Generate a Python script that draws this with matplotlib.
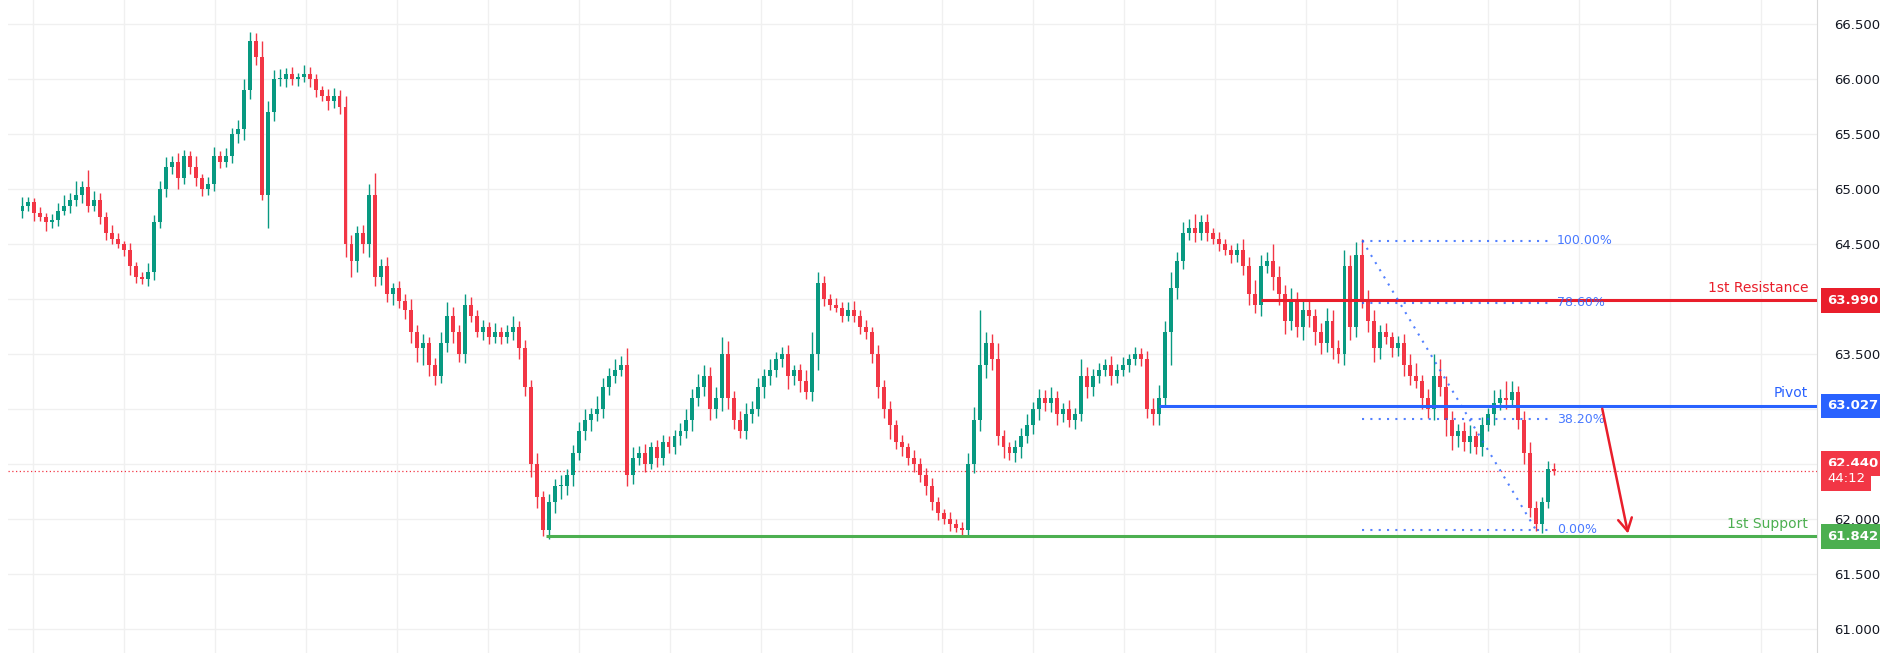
import numpy as np
import matplotlib.pyplot as plt
from matplotlib.patches import Rectangle

# candle closes (open = previous close)
closes = [
    64.85, 64.88, 64.78, 64.75, 64.70, 64.72, 64.80, 64.85, 64.90, 64.95,
    65.02, 64.85, 64.90, 64.75, 64.60, 64.55, 64.50, 64.45, 64.30, 64.20,
    64.18, 64.25, 64.70, 65.00, 65.20, 65.25, 65.10, 65.30, 65.20, 65.10,
    65.00, 65.05, 65.30, 65.25, 65.30, 65.50, 65.55, 65.90, 66.35, 66.20,
    64.95, 65.70, 66.00, 66.00, 66.05, 66.00, 66.02, 66.05, 66.00, 65.90,
    65.85, 65.80, 65.85, 65.75, 64.50, 64.35, 64.60, 64.50, 64.95, 64.20,
    64.30, 64.05, 64.10, 63.98, 63.90, 63.70, 63.55, 63.60, 63.40, 63.30,
    63.60, 63.85, 63.70, 63.50, 63.95, 63.85, 63.70, 63.75, 63.65, 63.70,
    63.65, 63.70, 63.75, 63.55, 63.20, 62.50, 62.20, 61.90, 62.15, 62.30,
    62.30, 62.40, 62.60, 62.80, 62.90, 62.95, 63.00, 63.20, 63.30, 63.35,
    63.40, 62.40, 62.55, 62.60, 62.50, 62.65, 62.55, 62.70, 62.65, 62.75,
    62.80, 62.90, 63.10, 63.20, 63.30, 63.00, 63.10, 63.50, 63.10, 62.90,
    62.80, 62.95, 63.00, 63.20, 63.30, 63.35, 63.45, 63.50, 63.30, 63.35,
    63.25, 63.15, 63.50, 64.15, 64.00, 63.95, 63.92, 63.85, 63.90, 63.85,
    63.75, 63.70, 63.50, 63.20, 63.00, 62.85, 62.70, 62.65, 62.55, 62.50,
    62.40, 62.30, 62.15, 62.05, 62.00, 61.95, 61.92, 61.90, 62.50, 62.90,
    63.40, 63.60, 63.45, 62.75, 62.65, 62.60, 62.65, 62.75, 62.85, 63.00,
    63.10, 63.05, 63.10, 62.95, 63.00, 62.90, 62.95, 63.30, 63.20, 63.30,
    63.35, 63.40, 63.30, 63.35, 63.40, 63.45, 63.50, 63.45, 63.00, 62.95,
    63.10, 63.70, 64.10, 64.35, 64.60, 64.65, 64.60, 64.70, 64.60, 64.55,
    64.50, 64.45, 64.40, 64.45, 64.30, 64.05, 63.95, 64.30, 64.35, 64.20,
    64.05, 63.80, 64.00, 63.75, 63.90, 63.85, 63.70, 63.60, 63.80, 63.55,
    63.50, 64.30, 63.75, 64.40, 64.00, 63.80, 63.55, 63.70, 63.65, 63.55,
    63.60, 63.40, 63.30, 63.25, 63.10, 63.00, 63.30, 63.20, 62.90, 62.75,
    62.80, 62.70, 62.75, 62.65, 62.85, 62.95, 63.05, 63.10, 63.08, 63.15,
    62.90, 62.60, 62.10, 61.95, 62.15, 62.45, 62.44,
]
first_open = 64.80

wick_up = [
    0.08, 0.05, 0.04, 0.06, 0.03, 0.05, 0.07, 0.10, 0.06, 0.12,
    0.05, 0.15, 0.08, 0.06, 0.04, 0.07, 0.05, 0.03, 0.06, 0.04,
    0.05, 0.08, 0.06, 0.07, 0.09, 0.05, 0.08, 0.06, 0.05, 0.10,
    0.04, 0.06, 0.08, 0.05, 0.07, 0.06, 0.08, 0.10, 0.08, 0.07,
    0.15, 0.10, 0.08, 0.09, 0.05, 0.06, 0.04, 0.08, 0.06, 0.05,
    0.04, 0.06, 0.07, 0.05, 0.10, 0.08, 0.06, 0.07, 0.10, 0.20,
    0.06, 0.08, 0.05, 0.06, 0.07, 0.10, 0.06, 0.08, 0.05, 0.06,
    0.10, 0.12, 0.08, 0.06, 0.10, 0.07, 0.05, 0.06, 0.04, 0.08,
    0.05, 0.06, 0.10, 0.05, 0.08, 0.06, 0.10, 0.05, 0.08, 0.06,
    0.10, 0.05, 0.07, 0.08, 0.10, 0.06, 0.12, 0.08, 0.07, 0.10,
    0.08, 0.15, 0.10, 0.06, 0.08, 0.05, 0.07, 0.06, 0.05, 0.06,
    0.07, 0.10, 0.08, 0.12, 0.10, 0.08, 0.10, 0.15, 0.12, 0.06,
    0.08, 0.10, 0.07, 0.08, 0.06, 0.10, 0.07, 0.06, 0.08, 0.05,
    0.06, 0.10, 0.20, 0.10, 0.06, 0.05, 0.06, 0.05, 0.07, 0.08,
    0.05, 0.06, 0.05, 0.08, 0.06, 0.07, 0.05, 0.06, 0.04, 0.08,
    0.05, 0.06, 0.07, 0.05, 0.04, 0.06, 0.05, 0.05, 0.10, 0.12,
    0.50, 0.10, 0.08, 0.15, 0.06, 0.05, 0.07, 0.08, 0.10, 0.06,
    0.08, 0.07, 0.10, 0.06, 0.05, 0.08, 0.06, 0.15, 0.08, 0.06,
    0.07, 0.05, 0.08, 0.06, 0.07, 0.05, 0.06, 0.05, 0.08, 0.10,
    0.12, 0.10, 0.15, 0.08, 0.10, 0.08, 0.12, 0.06, 0.07, 0.05,
    0.06, 0.05, 0.04, 0.06, 0.10, 0.08, 0.12, 0.10, 0.08, 0.15,
    0.10, 0.08, 0.10, 0.06, 0.08, 0.10, 0.06, 0.08, 0.12, 0.10,
    0.08, 0.15, 0.10, 0.12, 0.15, 0.08, 0.10, 0.06, 0.08, 0.05,
    0.06, 0.08, 0.10, 0.12, 0.06, 0.08, 0.20, 0.15, 0.10, 0.08,
    0.06, 0.08, 0.10, 0.05, 0.08, 0.06, 0.12, 0.08, 0.15, 0.10,
    0.06, 0.08, 0.10, 0.06, 0.05, 0.08, 0.06,
]
wick_dn = [
    0.06, 0.05, 0.07, 0.04, 0.08, 0.05, 0.06, 0.04, 0.07, 0.05,
    0.08, 0.06, 0.05, 0.07, 0.06, 0.05, 0.04, 0.06, 0.08, 0.05,
    0.04, 0.06, 0.08, 0.05, 0.07, 0.06, 0.10, 0.05, 0.06, 0.07,
    0.06, 0.05, 0.07, 0.06, 0.05, 0.06, 0.08, 0.10, 0.08, 0.07,
    0.05, 0.30, 0.08, 0.06, 0.07, 0.05, 0.06, 0.05, 0.07, 0.06,
    0.05, 0.08, 0.06, 0.07, 0.12, 0.15, 0.10, 0.08, 0.12, 0.08,
    0.07, 0.08, 0.10, 0.06, 0.08, 0.10, 0.12, 0.15, 0.10, 0.08,
    0.06, 0.08, 0.10, 0.07, 0.08, 0.06, 0.05, 0.07, 0.06, 0.05,
    0.06, 0.05, 0.07, 0.10, 0.08, 0.12, 0.10, 0.06, 0.08, 0.10,
    0.12, 0.08, 0.10, 0.06, 0.08, 0.10, 0.06, 0.08, 0.07, 0.06,
    0.05, 0.10, 0.08, 0.06, 0.07, 0.05, 0.08, 0.06, 0.05, 0.06,
    0.08, 0.06, 0.10, 0.07, 0.08, 0.10, 0.08, 0.12, 0.10, 0.08,
    0.06, 0.07, 0.08, 0.06, 0.10, 0.08, 0.06, 0.07, 0.12, 0.08,
    0.10, 0.06, 0.08, 0.15, 0.06, 0.05, 0.04, 0.06, 0.05, 0.06,
    0.07, 0.06, 0.08, 0.10, 0.08, 0.12, 0.06, 0.08, 0.06, 0.07,
    0.06, 0.08, 0.07, 0.06, 0.05, 0.06, 0.04, 0.05, 0.06, 0.08,
    0.10, 0.12, 0.10, 0.08, 0.10, 0.06, 0.08, 0.10, 0.06, 0.08,
    0.10, 0.07, 0.08, 0.10, 0.07, 0.06, 0.08, 0.06, 0.10, 0.08,
    0.06, 0.05, 0.08, 0.06, 0.05, 0.06, 0.05, 0.06, 0.08, 0.10,
    0.10, 0.08, 0.30, 0.10, 0.08, 0.06, 0.08, 0.06, 0.07, 0.05,
    0.06, 0.05, 0.07, 0.06, 0.08, 0.10, 0.08, 0.10, 0.06, 0.12,
    0.10, 0.12, 0.08, 0.10, 0.12, 0.10, 0.12, 0.10, 0.08, 0.10,
    0.08, 0.10, 0.12, 0.10, 0.08, 0.10, 0.12, 0.10, 0.06, 0.08,
    0.07, 0.10, 0.08, 0.06, 0.10, 0.08, 0.10, 0.08, 0.15, 0.12,
    0.10, 0.08, 0.10, 0.06, 0.08, 0.05, 0.10, 0.06, 0.08, 0.06,
    0.08, 0.10, 0.08, 0.06, 0.08, 0.05, 0.04,
]

resistance = 63.990
pivot = 63.027
support = 61.842
last_price = 62.440
fib_high, fib_low = 64.53, 61.90
fib_levels = [1.0, 0.786, 0.382, 0.0]
fib_labels = ["100.00%", "78.60%", "38.20%", "0.00%"]
price_ticks = [61.0, 61.5, 62.0, 63.5, 64.5, 65.0, 65.5, 66.0, 66.5]  # others hidden under the price tags

BULL, BEAR = "#089981", "#F23645"
RED, BLUE, GREEN = "#E91E2B", "#2962FF", "#4CAF50"

plt.rcParams["font.family"] = ["DejaVu Sans"]
fig = plt.figure(figsize=(18.81, 6.53), dpi=100)
ax = fig.add_axes([0.004, 0.0, 0.962, 1.0])

opens = [first_open] + closes[:-1]
for i, (o, c) in enumerate(zip(opens, closes)):
    col = BULL if c >= o else BEAR
    hi = max(o, c) + wick_up[i]
    lo = min(o, c) - wick_dn[i]
    ax.vlines(i, lo, hi, color=col, lw=1.0, zorder=3)
    h = max(abs(c - o), 0.008)
    ax.add_patch(Rectangle((i - 0.33, min(o, c)), 0.66, h, color=col, lw=0, zorder=4))

x_right = 300
ax.set_xlim(-2.5, x_right)
ax.set_ylim(60.78, 66.72)

# grid
for gx in np.arange(1.8, x_right, 15.2):
    ax.axvline(gx, color="#f0f0f0", lw=1, zorder=0)
for gy in np.arange(61.0, 66.51, 0.5):
    ax.axhline(gy, color="#f0f0f0", lw=1, zorder=0)

# levels
ax.hlines(resistance, 207, x_right, color=RED, lw=2.2, zorder=5)
ax.hlines(pivot, 190, x_right, color=BLUE, lw=2.2, zorder=5)
ax.hlines(support, 87.5, x_right, color=GREEN, lw=2.2, zorder=5)
ax.axhline(last_price, color=BEAR, lw=0.9, ls=(0, (1, 2)), zorder=2)
ax.text(x_right - 1.5, resistance + 0.05, "1st Resistance", color=RED, ha="right", va="bottom", fontsize=10)
ax.text(x_right - 1.5, pivot + 0.05, "Pivot", color=BLUE, ha="right", va="bottom", fontsize=10)
ax.text(x_right - 1.5, support + 0.05, "1st Support", color=GREEN, ha="right", va="bottom", fontsize=10)

# fibonacci
fx0, fx1 = 224, 255.5
for lv, lb in zip(fib_levels, fib_labels):
    p = fib_low + (fib_high - fib_low) * lv
    ax.hlines(p, fx0, fx1, color=BLUE, lw=1.5, ls=(0, (1, 3)), alpha=0.8, zorder=6)
    ax.text(fx1 + 1, p, lb, color=BLUE, fontsize=9, va="center", ha="left", alpha=0.85, zorder=7)
ax.plot([fx0, 253], [fib_high, fib_low], color=BLUE, lw=1.5, ls=(0, (1, 3)), alpha=0.8, zorder=6)

# projection arrow
ax.annotate("", xy=(268.5, support), xytext=(264, pivot),
            arrowprops=dict(arrowstyle="->,head_length=0.9,head_width=0.5", color=RED, lw=1.8), zorder=8)

# price axis
ax.yaxis.tick_right()
ax.set_yticks(price_ticks)
ax.set_yticklabels([f"{t:.3f}" for t in price_ticks], fontsize=9.5, color="#131722")
ax.tick_params(axis="y", length=0, pad=12)
ax.set_xticks([])
for s in ["top", "bottom", "left"]:
    ax.spines[s].set_visible(False)
ax.spines["right"].set_color("#d9d9d9")


def price_box(y, txt, col, sub=None):
    kw = dict(transform=ax.get_yaxis_transform(), color="white", fontsize=9.5, va="center",
              ha="left", zorder=10, clip_on=False,
              bbox=dict(fc=col, ec="none", boxstyle="square,pad=0.45"))
    ax.text(1.0055, y, txt, fontweight="bold", **kw)
    if sub:
        ax.text(1.0055, y - 0.13, sub, **kw)


price_box(resistance, f"{resistance:.3f}", RED)
price_box(pivot, f"{pivot:.3f}", BLUE)
price_box(last_price + 0.06, f"{last_price:.3f}", BEAR, sub="44:12")
price_box(support, f"{support:.3f}", GREEN)

fig.savefig("out.png", dpi=100)
